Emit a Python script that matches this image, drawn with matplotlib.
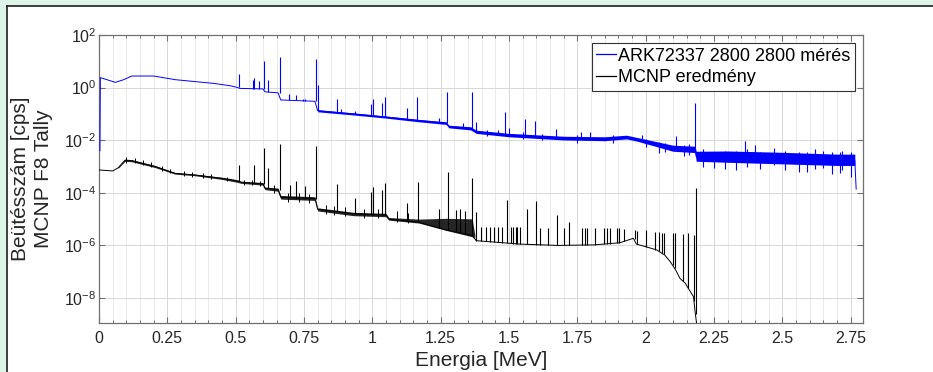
import numpy as np
import matplotlib
matplotlib.use("Agg")
import matplotlib.pyplot as plt
from matplotlib.ticker import MultipleLocator, FixedLocator, NullLocator, LogFormatterSciNotation
from matplotlib.patches import Rectangle
from matplotlib.lines import Line2D

plt.rcParams['font.family'] = ['Liberation Sans', 'DejaVu Sans']
plt.rcParams['mathtext.default'] = 'regular'

# ---------------------------------------------------------------
# data (energies in MeV, counts as log10)
# ---------------------------------------------------------------
label_meas = "ARK72337 2800 2800 mérés"
label_mcnp = "MCNP eredmény"

# measured spectrum: continuum
meas_E = [0.0035, 0.005, 0.02, 0.06, 0.09, 0.12, 0.20, 0.28, 0.42, 0.48, 0.505, 0.515,
          0.60, 0.607, 0.655, 0.665, 0.79, 0.80, 0.93, 1.05, 1.17, 1.27, 1.28, 1.36,
          1.38, 1.50, 1.70, 1.85, 1.93, 1.97, 2.10, 2.18, 2.185, 2.30, 2.50, 2.70,
          2.765, 2.77]
meas_log = [-2.4, 0.38, 0.33, 0.20, 0.30, 0.44, 0.44, 0.30, 0.16, 0.07, 0.01, -0.03,
            -0.05, -0.16, -0.20, -0.47, -0.52, -0.88, -1.00, -1.12, -1.25, -1.35, -1.48, -1.55,
            -1.68, -1.80, -1.92, -1.95, -1.88, -1.97, -2.30, -2.36, -2.62, -2.63, -2.68, -2.74,
            -2.75, -3.86]

# measured spectrum: statistical noise band
meas_band_E = [0.80, 0.93, 1.05, 1.17, 1.27, 1.28, 1.36, 1.38, 1.50, 1.70, 1.85, 1.93,
               1.97, 2.10, 2.18, 2.185, 2.30, 2.50, 2.70, 2.765]
meas_band_lo = [-0.92, -1.04, -1.16, -1.30, -1.40, -1.53, -1.61, -1.74, -1.87, -1.99, -2.02, -1.95,
                -2.04, -2.42, -2.47, -2.80, -2.84, -2.90, -2.96, -2.96]
meas_band_hi = [-0.84, -0.96, -1.08, -1.21, -1.30, -1.43, -1.49, -1.62, -1.74, -1.85, -1.87, -1.81,
                -1.90, -2.19, -2.23, -2.42, -2.41, -2.46, -2.53, -2.53]

# measured spectrum: peaks (energy, base, top)
meas_pk_E = [0.512, 0.563, 0.568, 0.586, 0.604, 0.620, 0.661, 0.695, 0.722, 0.745, 0.752,
             0.794, 0.800, 0.871, 0.884, 0.935, 0.995, 1.002, 1.036, 1.048, 1.125, 1.165,
             1.245, 1.273, 1.330, 1.363, 1.381, 1.458, 1.486, 1.500, 1.559, 1.594, 1.671,
             1.763, 1.795, 1.985, 2.110, 2.180, 2.362, 2.400]
meas_pk_base = [0.02, -0.04, -0.04, -0.05, -0.06, -0.16, -0.20, -0.47, -0.48, -0.50, -0.50,
                -0.52, -0.85, -0.93, -0.95, -1.00, -1.05, -1.05, -1.10, -1.10, -1.20, -1.24,
                -1.33, -1.35, -1.52, -1.55, -1.66, -1.77, -1.78, -1.80, -1.84, -1.86, -1.90,
                -1.93, -1.93, -1.95, -2.30, -2.36, -2.65, -2.66]
meas_pk_top = [0.52, 0.28, 0.35, 0.25, 1.01, 0.29, 1.15, -0.24, -0.29, -0.42, -0.42,
               1.09, 0.10, -0.45, -0.80, -0.88, -0.62, -0.43, -0.57, -0.35, -0.78, -0.37,
               -1.15, -0.15, -1.35, -0.15, -1.30, -1.60, -0.92, -1.55, -1.21, -1.27, -1.59,
               -1.68, -1.68, -1.81, -1.84, -0.57, -2.02, -2.20]

# measured spectrum: single noisy channels (energy, low, high)
meas_ns_E = [1.42, 1.55, 1.62, 1.75, 1.88, 2.00, 2.05, 2.07, 2.14, 2.16, 2.21, 2.25,
             2.29, 2.33, 2.37, 2.42, 2.47, 2.51, 2.56, 2.59, 2.62, 2.65, 2.68, 2.71,
             2.72, 2.75]
meas_ns_lo = [-1.85, -1.95, -2.00, -2.10, -2.10, -2.25, -2.50, -2.45, -2.60, -2.55, -3.00, -3.05,
              -3.10, -3.15, -3.00, -3.10, -2.95, -3.15, -3.20, -3.20, -3.10, -3.05, -3.30, -3.25,
              -3.15, -3.40]
meas_ns_hi = [-1.62, -1.70, -1.75, -1.82, -1.80, -1.95, -2.05, -2.10, -2.20, -2.15, -2.35, -2.45,
              -2.40, -2.40, -2.35, -2.45, -2.30, -2.40, -2.45, -2.45, -2.35, -2.40, -2.45, -2.45,
              -2.40, -2.45]

# MCNP F8 tally: continuum
mcnp_E = [0.0, 0.05, 0.07, 0.095, 0.12, 0.205, 0.278, 0.35, 0.45, 0.505, 0.52, 0.60,
          0.607, 0.655, 0.665, 0.79, 0.80, 0.93, 1.05, 1.06, 1.17, 1.27, 1.365, 1.38,
          1.54, 1.68, 1.81, 1.905, 1.955, 1.966, 2.0, 2.04, 2.07, 2.09, 2.11, 2.125,
          2.145, 2.16, 2.175, 2.18, 2.186]
mcnp_log = [-3.13, -3.17, -3.05, -2.76, -2.78, -3.00, -3.26, -3.32, -3.45, -3.55, -3.60, -3.66,
            -3.83, -3.88, -4.17, -4.22, -4.63, -4.80, -4.85, -5.00, -5.12, -5.41, -5.62, -5.82,
            -5.95, -6.00, -5.98, -5.90, -5.73, -5.95, -6.05, -6.17, -6.37, -6.62, -6.94, -7.25,
            -7.44, -7.70, -7.95, -8.46, -8.95]

# MCNP: noise band
mcnp_band_E = [0.07, 0.095, 0.12, 0.205, 0.278, 0.35, 0.45, 0.505, 0.52, 0.60, 0.607,
               0.655, 0.665, 0.79, 0.80, 0.93, 1.05, 1.06, 1.17, 1.27, 1.365, 1.375]
mcnp_band_lo = [-3.07, -2.80, -2.82, -3.04, -3.29, -3.35, -3.49, -3.60, -3.64, -3.71, -3.88,
                -3.94, -4.24, -4.29, -4.69, -4.87, -4.91, -5.04, -5.15, -5.43, -5.67, -5.70]
mcnp_band_hi = [-3.03, -2.72, -2.74, -2.96, -3.23, -3.29, -3.41, -3.50, -3.56, -3.61, -3.78,
                -3.82, -4.10, -4.15, -4.57, -4.74, -4.78, -4.94, -5.00, -4.97, -4.99, -5.60]

# MCNP: statistical noise (energy, low, high)
mcnp_ns_E = [0.10, 0.13, 0.16, 0.19, 0.23, 0.26, 0.31, 0.34, 0.38, 0.41, 0.47, 0.53,
             0.56, 0.59, 0.64, 0.69, 0.73, 0.77, 0.83, 0.86, 0.90, 0.97, 1.02, 1.09, 1.13]
mcnp_ns_lo = [-2.85, -2.86, -2.95, -3.02, -3.18, -3.25, -3.36, -3.38, -3.42, -3.47, -3.56, -3.70,
              -3.72, -3.75, -4.00, -4.35, -4.36, -4.38, -4.80, -4.85, -4.90, -4.95, -4.97, -5.10, -5.15]
mcnp_ns_hi = [-2.62, -2.66, -2.75, -2.84, -2.98, -3.08, -3.18, -3.22, -3.26, -3.30, -3.38, -3.50,
              -3.52, -3.55, -3.72, -4.02, -4.00, -4.05, -4.45, -4.50, -4.55, -4.60, -4.62, -4.70, -4.75]

# MCNP: peaks (energy, base, top)
mcnp_pk_E = [0.512, 0.568, 0.604, 0.620, 0.661, 0.700, 0.722, 0.755, 0.794, 0.871, 0.935,
             0.995, 1.002, 1.036, 1.048, 1.125, 1.168, 1.245, 1.275, 1.306, 1.320, 1.339,
             1.365, 1.381, 1.399, 1.415, 1.430, 1.444, 1.460, 1.476, 1.491, 1.507, 1.515,
             1.524, 1.531, 1.539, 1.564, 1.597, 1.613, 1.643, 1.674, 1.702, 1.719, 1.768,
             1.777, 1.786, 1.816, 1.847, 1.857, 1.868, 1.895, 1.904, 1.920, 1.960, 1.968,
             2.000, 2.035, 2.047, 2.059, 2.068, 2.099, 2.107, 2.138, 2.154, 2.178, 2.183]
mcnp_pk_base = [-3.55, -3.62, -3.66, -3.83, -3.88, -4.18, -4.19, -4.20, -4.22, -4.70, -4.80,
                -4.84, -4.84, -4.85, -4.85, -5.08, -5.12, -5.34, -5.42, -5.47, -5.50, -5.55,
                -5.62, -5.82, -5.84, -5.85, -5.86, -5.87, -5.88, -5.89, -5.90, -5.92, -5.93,
                -5.93, -5.94, -5.95, -5.96, -5.98, -5.98, -5.99, -6.00, -6.00, -6.00, -5.99,
                -5.99, -5.99, -5.98, -5.96, -5.95, -5.94, -5.91, -5.89, -5.85, -5.74, -5.95,
                -6.05, -6.16, -6.22, -6.28, -6.33, -6.75, -6.87, -7.37, -7.62, -8.10, -8.60]
mcnp_pk_top = [-2.94, -2.94, -2.31, -3.07, -2.14, -3.70, -3.55, -3.75, -2.22, -3.68, -4.21,
               -3.96, -3.77, -3.90, -3.62, -4.39, -3.60, -4.60, -3.22, -4.65, -4.60, -4.70,
               -3.45, -4.74, -5.30, -5.30, -5.30, -5.30, -5.30, -5.30, -4.27, -5.30, -5.30,
               -5.30, -5.30, -5.30, -4.63, -4.33, -5.35, -5.35, -4.84, -5.35, -5.10, -5.35,
               -5.35, -5.35, -5.35, -5.35, -5.35, -5.35, -5.35, -5.35, -5.38, -5.41, -5.45,
               -5.41, -5.48, -5.50, -5.52, -5.52, -5.52, -5.52, -5.55, -5.52, -5.60, -3.80]

x_ticks = [0, 0.25, 0.5, 0.75, 1, 1.25, 1.5, 1.75, 2, 2.25, 2.5, 2.75]
x_tick_labels = ["0", "0.25", "0.5", "0.75", "1", "1.25", "1.5", "1.75", "2", "2.25", "2.5", "2.75"]
y_ticks = [1e-8, 1e-6, 1e-4, 1e-2, 1e0, 1e2]


def lin(v):
    return np.power(10.0, np.asarray(v, dtype=float))


fig = plt.figure(figsize=(9.33, 3.72), dpi=100)
fig.patch.set_facecolor("white")

# page frame strip (top / left)
fig.patches.append(Rectangle((0, 0), 7.5 / 933, 1, transform=fig.transFigure,
                             facecolor="#ddf4e8", edgecolor="none", zorder=0))
fig.patches.append(Rectangle((0, 1 - 5.5 / 372), 1, 5.5 / 372, transform=fig.transFigure,
                             facecolor="#ddf4e8", edgecolor="none", zorder=0))
fig.lines.append(Line2D([7.5 / 933, 7.5 / 933], [0, 1 - 5.5 / 372], transform=fig.transFigure,
                        color="#1e1e1e", lw=1.2))
fig.lines.append(Line2D([7.5 / 933, 1], [1 - 5.5 / 372, 1 - 5.5 / 372], transform=fig.transFigure,
                        color="#1e1e1e", lw=1.2))

ax = fig.add_axes([99 / 933, 1 - 323 / 372, 764 / 933, 288 / 372])

blue = "#0000ff"
# measured
ax.fill_between(meas_band_E, lin(meas_band_lo), lin(meas_band_hi), color=blue, lw=0, zorder=2)
ax.plot(meas_E, lin(meas_log), color=blue, lw=0.7, zorder=3)
ax.vlines(meas_pk_E, lin(meas_pk_base), lin(meas_pk_top), color=blue, lw=0.8, zorder=3)
ax.vlines(meas_ns_E, lin(meas_ns_lo), lin(meas_ns_hi), color=blue, lw=0.8, zorder=3)

# MCNP
ax.fill_between(mcnp_band_E, lin(mcnp_band_lo), lin(mcnp_band_hi), color="black", lw=0,
                alpha=0.85, zorder=2)
ax.plot(mcnp_E, lin(mcnp_log), color="black", lw=0.7, zorder=3)
ax.vlines(mcnp_ns_E, lin(mcnp_ns_lo), lin(mcnp_ns_hi), color="black", lw=0.7, zorder=3)
ax.vlines(mcnp_pk_E, lin(mcnp_pk_base), lin(mcnp_pk_top), color="black", lw=0.8, zorder=3)

ax.set_yscale("log")
ax.set_xlim(0, 2.795)
ax.set_ylim(10 ** -8.95, 1e2)

ax.xaxis.set_major_locator(FixedLocator(x_ticks))
ax.set_xticklabels(x_tick_labels)
ax.xaxis.set_minor_locator(MultipleLocator(0.05))
ax.yaxis.set_major_locator(FixedLocator(y_ticks))
ax.yaxis.set_major_formatter(LogFormatterSciNotation())
ax.yaxis.set_minor_locator(NullLocator())

ax.grid(which="major", color="#d8d8d8", lw=0.7, zorder=0)
ax.grid(which="minor", axis="x", color="#e6e6e6", lw=0.6, zorder=0)
ax.set_axisbelow(True)

for s in ax.spines.values():
    s.set_color("#707070")
    s.set_linewidth(0.9)
ax.tick_params(which="both", direction="in", top=True, right=True, colors="#707070",
               labelcolor="#262626", labelsize=11.5)
ax.tick_params(which="major", length=4.5, width=0.8)
ax.tick_params(which="minor", length=2.5, width=0.7)
ax.tick_params(axis="x", pad=5.5)
ax.tick_params(axis="y", pad=2)

ax.set_xlabel("Energia [MeV]", fontsize=15, color="#262626", va="baseline")
ax.xaxis.set_label_coords(0.5, (323 - 366) / 288)
ax.set_ylabel("Beütésszám [cps]\nMCNP F8 Tally", fontsize=15, color="#262626",
              va="center", linespacing=1.3)
ax.yaxis.set_label_coords((32 - 99) / 764, 0.5)

handles = [Line2D([], [], color=blue, lw=0.9), Line2D([], [], color="black", lw=0.9)]
leg = ax.legend(handles, [label_meas, label_mcnp], loc="upper right", fontsize=13,
                frameon=True, fancybox=False, borderaxespad=0.45, handlelength=1.1,
                handletextpad=0.1, borderpad=0.25, labelspacing=0.25)
leg.get_frame().set_edgecolor("#333333")
leg.get_frame().set_linewidth(0.8)
leg.get_frame().set_alpha(1)

fig.savefig("out.png", dpi=100)
